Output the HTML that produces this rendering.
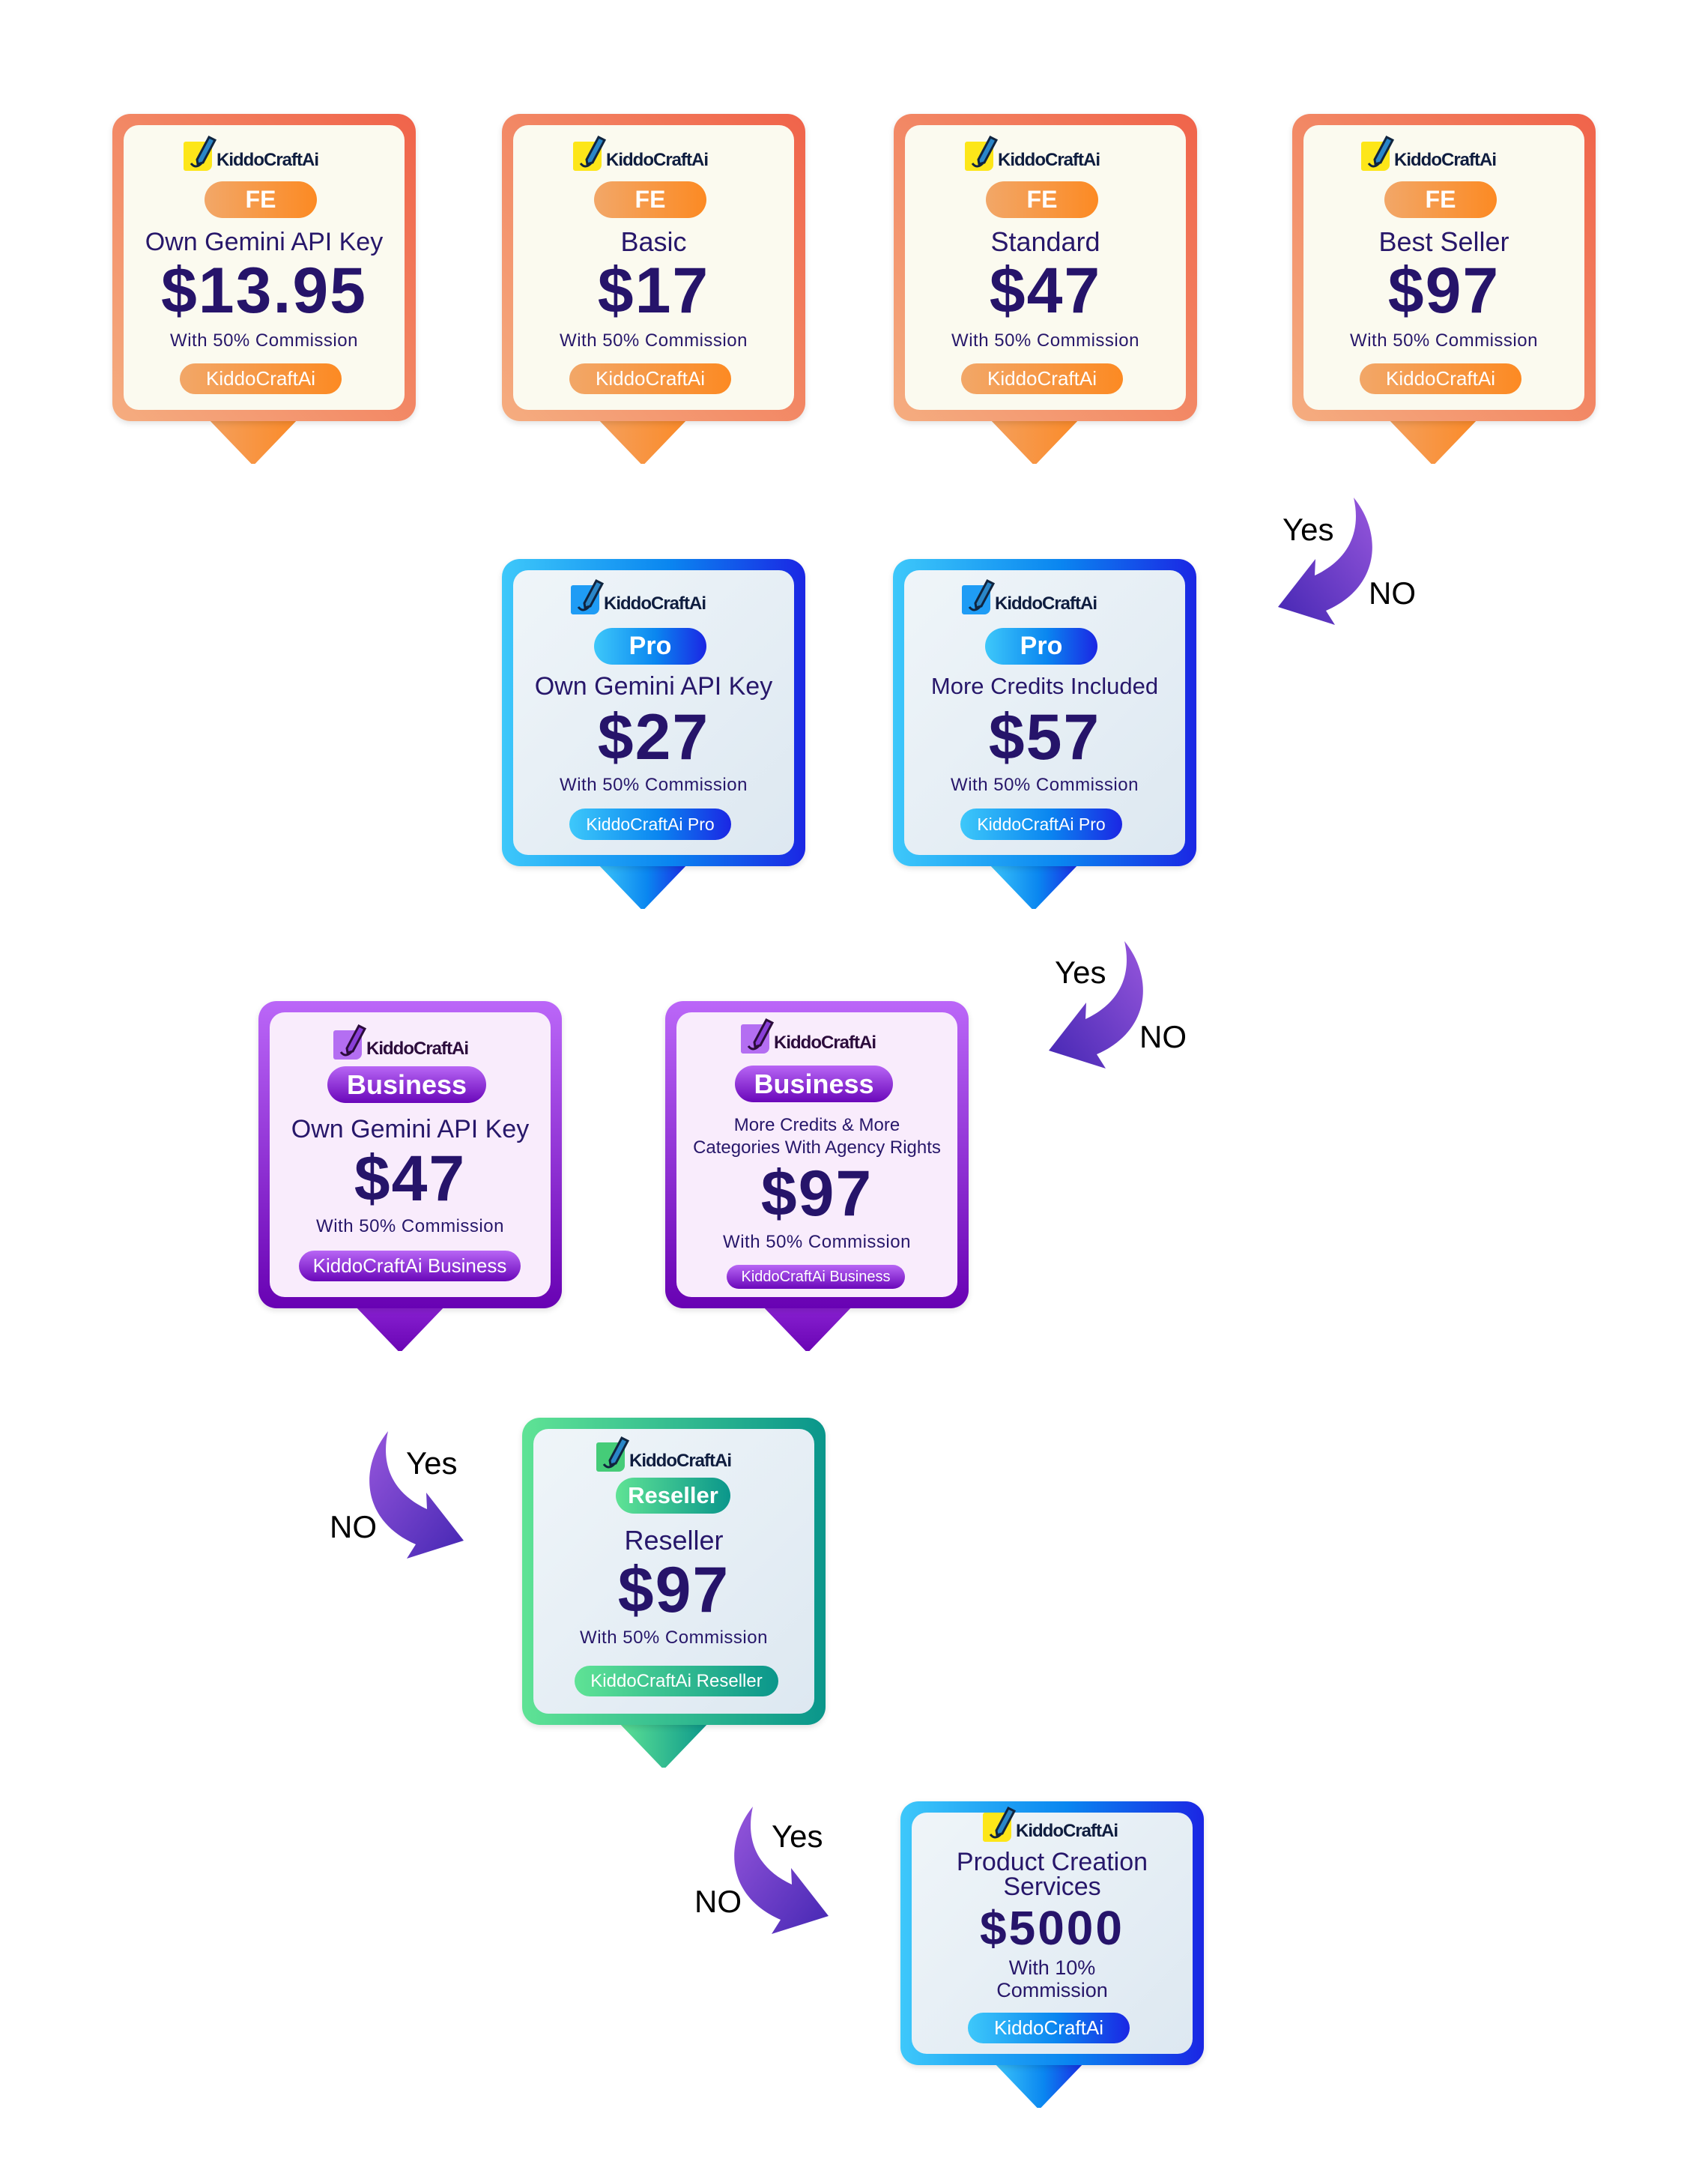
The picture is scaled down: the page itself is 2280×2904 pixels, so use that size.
<!DOCTYPE html>
<html><head><meta charset="utf-8">
<style>
*{margin:0;padding:0;box-sizing:border-box}
body{width:2280px;height:2904px;background:#fff;position:relative;overflow:hidden;font-family:"Liberation Sans",sans-serif}
.card{position:absolute;width:405px;height:410px}
.outer{position:absolute;left:0;top:0;right:0;bottom:0;border-radius:24px;box-shadow:0 3px 8px rgba(0,0,0,.12)}
.inner{position:absolute;left:15px;top:15px;right:15px;bottom:15px;border-radius:20px}
.tip{position:absolute;width:124px;height:62px;clip-path:polygon(0 0,100% 0,52% 100%,48% 100%)}
.t{position:absolute;left:0;width:405px;text-align:center;white-space:nowrap;color:#27176a}
.pill{position:absolute;border-radius:26px;color:#fff;text-align:center;white-space:nowrap}
.logo{position:absolute;height:52px;width:220px}
.logo .ic{position:absolute;left:0;top:11px;width:38px;height:39px;border-radius:3px 3px 8px 3px}
.logo svg{position:absolute;left:0;top:0}
.logo span{position:absolute;left:44px;top:21px;font-size:24px;font-weight:bold;letter-spacing:-1px;color:#0f1d3f;line-height:30px}
.fe .outer{background:linear-gradient(45deg,#f5ad80,#f0634a)}
.fe .inner{background:#fbfaef}
.fe .pill{background:linear-gradient(90deg,#f2a768,#fc8a23)}
.fe .tip{background:linear-gradient(90deg,#f4a05e,#fb8a27)}
.pro .outer{background:linear-gradient(90deg,#3ec8fa,#0a86f0 55%,#1b26e4)}
.pro .inner{background:linear-gradient(135deg,#eff5f9,#dde8f1)}
.pro .pill{background:linear-gradient(90deg,#3ec8fa,#0a86f0 55%,#1b26e4)}
.pro .tip{background:linear-gradient(90deg,#3ec8fa,#0a86f0 55%,#1b26e4)}
.biz .outer{background:linear-gradient(180deg,#bb67f8,#6802b3)}
.biz .inner{background:#f9ecfc}
.biz .pill{background:linear-gradient(180deg,#b866f5,#6a07ba)}
.biz .tip{background:linear-gradient(180deg,#8a22d2,#6a05b5)}
.biz .logo span{color:#2c0c3c}
.res .outer{background:linear-gradient(90deg,#5fe395,#0a968b)}
.res .inner{background:linear-gradient(135deg,#eff5f9,#dde8f1)}
.res .pill{background:linear-gradient(90deg,#5fe395,#0a968b)}
.res .tip{background:linear-gradient(90deg,#5fe395,#0a968b)}
.price{font-weight:bold;letter-spacing:2px;color:#26146a}
.lbl{position:absolute;font-size:42px;color:#000;line-height:1;font-family:"Liberation Sans",sans-serif}
</style></head><body>

<svg width="0" height="0" style="position:absolute">
<defs>
<linearGradient id="ag" x1="1" y1="0" x2="0" y2="1"><stop offset="0" stop-color="#9656dc"/><stop offset="1" stop-color="#4527b3"/></linearGradient>
</defs>
</svg>

<!-- ROW 1 FE -->
<div class="card fe" style="left:150px;top:152px">
 <div class="tip" style="left:126px;top:405px"></div>
 <div class="outer"></div><div class="inner"></div>
 <div class="logo" style="left:95px;top:26px"><div class="ic" style="background:#fde619"></div><svg width="50" height="52"><path d="M18 35 L34 5 L42 9 L26 39 L19 41 Z" fill="#2a86c8" stroke="#10243f" stroke-width="3"/><path d="M10 40 Q16 48 24 40" fill="none" stroke="#10243f" stroke-width="3"/></svg><span>KiddoCraftAi</span></div>
 <div class="pill" style="left:123px;top:90px;width:150px;height:49px;line-height:49px;font-size:32px;font-weight:bold">FE</div>
 <div class="t" style="top:151px;height:40px;line-height:40px;font-size:34px">Own Gemini API Key</div>
 <div class="t price" style="top:186px;height:100px;line-height:100px;font-size:86px">$13.95</div>
 <div class="t" style="top:289px;height:28px;line-height:28px;font-size:24px;letter-spacing:.5px">With 50% Commission</div>
 <div class="pill" style="left:90px;top:333px;width:216px;height:41px;line-height:41px;font-size:26px">KiddoCraftAi</div>
</div>

<div class="card fe" style="left:670px;top:152px">
 <div class="tip" style="left:126px;top:405px"></div>
 <div class="outer"></div><div class="inner"></div>
 <div class="logo" style="left:95px;top:26px"><div class="ic" style="background:#fde619"></div><svg width="50" height="52"><path d="M18 35 L34 5 L42 9 L26 39 L19 41 Z" fill="#2a86c8" stroke="#10243f" stroke-width="3"/><path d="M10 40 Q16 48 24 40" fill="none" stroke="#10243f" stroke-width="3"/></svg><span>KiddoCraftAi</span></div>
 <div class="pill" style="left:123px;top:90px;width:150px;height:49px;line-height:49px;font-size:32px;font-weight:bold">FE</div>
 <div class="t" style="top:151px;height:40px;line-height:40px;font-size:36px">Basic</div>
 <div class="t price" style="top:186px;height:100px;line-height:100px;font-size:86px">$17</div>
 <div class="t" style="top:289px;height:28px;line-height:28px;font-size:24px;letter-spacing:.5px">With 50% Commission</div>
 <div class="pill" style="left:90px;top:333px;width:216px;height:41px;line-height:41px;font-size:26px">KiddoCraftAi</div>
</div>

<div class="card fe" style="left:1193px;top:152px">
 <div class="tip" style="left:126px;top:405px"></div>
 <div class="outer"></div><div class="inner"></div>
 <div class="logo" style="left:95px;top:26px"><div class="ic" style="background:#fde619"></div><svg width="50" height="52"><path d="M18 35 L34 5 L42 9 L26 39 L19 41 Z" fill="#2a86c8" stroke="#10243f" stroke-width="3"/><path d="M10 40 Q16 48 24 40" fill="none" stroke="#10243f" stroke-width="3"/></svg><span>KiddoCraftAi</span></div>
 <div class="pill" style="left:123px;top:90px;width:150px;height:49px;line-height:49px;font-size:32px;font-weight:bold">FE</div>
 <div class="t" style="top:151px;height:40px;line-height:40px;font-size:36px">Standard</div>
 <div class="t price" style="top:186px;height:100px;line-height:100px;font-size:86px">$47</div>
 <div class="t" style="top:289px;height:28px;line-height:28px;font-size:24px;letter-spacing:.5px">With 50% Commission</div>
 <div class="pill" style="left:90px;top:333px;width:216px;height:41px;line-height:41px;font-size:26px">KiddoCraftAi</div>
</div>

<div class="card fe" style="left:1725px;top:152px">
 <div class="tip" style="left:126px;top:405px"></div>
 <div class="outer"></div><div class="inner"></div>
 <div class="logo" style="left:92px;top:26px"><div class="ic" style="background:#fde619"></div><svg width="50" height="52"><path d="M18 35 L34 5 L42 9 L26 39 L19 41 Z" fill="#2a86c8" stroke="#10243f" stroke-width="3"/><path d="M10 40 Q16 48 24 40" fill="none" stroke="#10243f" stroke-width="3"/></svg><span>KiddoCraftAi</span></div>
 <div class="pill" style="left:123px;top:90px;width:150px;height:49px;line-height:49px;font-size:32px;font-weight:bold">FE</div>
 <div class="t" style="top:151px;height:40px;line-height:40px;font-size:36px">Best Seller</div>
 <div class="t price" style="top:186px;height:100px;line-height:100px;font-size:86px">$97</div>
 <div class="t" style="top:289px;height:28px;line-height:28px;font-size:24px;letter-spacing:.5px">With 50% Commission</div>
 <div class="pill" style="left:90px;top:333px;width:216px;height:41px;line-height:41px;font-size:26px">KiddoCraftAi</div>
</div>

<!-- ROW 2 PRO -->
<div class="card pro" style="left:670px;top:746px">
 <div class="tip" style="left:126px;top:405px"></div>
 <div class="outer"></div><div class="inner"></div>
 <div class="logo" style="left:92px;top:24px"><div class="ic" style="background:#1f9cf5"></div><svg width="50" height="52"><path d="M18 35 L34 5 L42 9 L26 39 L19 41 Z" fill="#2a86c8" stroke="#10243f" stroke-width="3"/><path d="M10 40 Q16 48 24 40" fill="none" stroke="#10243f" stroke-width="3"/></svg><span>KiddoCraftAi</span></div>
 <div class="pill" style="left:123px;top:92px;width:150px;height:49px;line-height:49px;font-size:34px;font-weight:bold">Pro</div>
 <div class="t" style="top:150px;height:40px;line-height:40px;font-size:34px">Own Gemini API Key</div>
 <div class="t price" style="top:188px;height:100px;line-height:100px;font-size:86px">$27</div>
 <div class="t" style="top:288px;height:28px;line-height:28px;font-size:24px;letter-spacing:.5px">With 50% Commission</div>
 <div class="pill" style="left:90px;top:333px;width:216px;height:42px;line-height:42px;font-size:23px">KiddoCraftAi Pro</div>
</div>

<div class="card pro" style="left:1192px;top:746px">
 <div class="tip" style="left:126px;top:405px"></div>
 <div class="outer"></div><div class="inner"></div>
 <div class="logo" style="left:92px;top:24px"><div class="ic" style="background:#1f9cf5"></div><svg width="50" height="52"><path d="M18 35 L34 5 L42 9 L26 39 L19 41 Z" fill="#2a86c8" stroke="#10243f" stroke-width="3"/><path d="M10 40 Q16 48 24 40" fill="none" stroke="#10243f" stroke-width="3"/></svg><span>KiddoCraftAi</span></div>
 <div class="pill" style="left:123px;top:92px;width:150px;height:49px;line-height:49px;font-size:34px;font-weight:bold">Pro</div>
 <div class="t" style="top:150px;height:40px;line-height:40px;font-size:31px">More Credits Included</div>
 <div class="t price" style="top:188px;height:100px;line-height:100px;font-size:86px">$57</div>
 <div class="t" style="top:288px;height:28px;line-height:28px;font-size:24px;letter-spacing:.5px">With 50% Commission</div>
 <div class="pill" style="left:90px;top:333px;width:216px;height:42px;line-height:42px;font-size:23px">KiddoCraftAi Pro</div>
</div>

<!-- ROW 3 BUSINESS -->
<div class="card biz" style="left:345px;top:1336px">
 <div class="tip" style="left:127px;top:405px"></div>
 <div class="outer"></div><div class="inner"></div>
 <div class="logo" style="left:100px;top:28px"><div class="ic" style="background:#b46ef2"></div><svg width="50" height="52"><path d="M18 35 L34 5 L42 9 L26 39 L19 41 Z" fill="#8a3fd8" stroke="#2c0c3c" stroke-width="3"/><path d="M10 40 Q16 48 24 40" fill="none" stroke="#2c0c3c" stroke-width="3"/></svg><span>KiddoCraftAi</span></div>
 <div class="pill" style="left:92px;top:87px;width:212px;height:49px;line-height:49px;font-size:36px;font-weight:bold">Business</div>
 <div class="t" style="top:151px;height:40px;line-height:40px;font-size:34px">Own Gemini API Key</div>
 <div class="t price" style="top:187px;height:100px;line-height:100px;font-size:86px">$47</div>
 <div class="t" style="top:287px;height:28px;line-height:28px;font-size:24px;letter-spacing:.5px">With 50% Commission</div>
 <div class="pill" style="left:54px;top:333px;width:296px;height:41px;line-height:41px;font-size:26px">KiddoCraftAi Business</div>
</div>

<div class="card biz" style="left:888px;top:1336px">
 <div class="tip" style="left:128px;top:405px"></div>
 <div class="outer"></div><div class="inner"></div>
 <div class="logo" style="left:101px;top:20px"><div class="ic" style="background:#b46ef2"></div><svg width="50" height="52"><path d="M18 35 L34 5 L42 9 L26 39 L19 41 Z" fill="#8a3fd8" stroke="#2c0c3c" stroke-width="3"/><path d="M10 40 Q16 48 24 40" fill="none" stroke="#2c0c3c" stroke-width="3"/></svg><span>KiddoCraftAi</span></div>
 <div class="pill" style="left:93px;top:86px;width:211px;height:49px;line-height:49px;font-size:36px;font-weight:bold">Business</div>
 <div class="t" style="top:152px;height:28px;line-height:28px;font-size:24px">More Credits &amp; More</div>
 <div class="t" style="top:182px;height:28px;line-height:28px;font-size:24px">Categories With Agency Rights</div>
 <div class="t price" style="top:207px;height:100px;line-height:100px;font-size:86px">$97</div>
 <div class="t" style="top:308px;height:28px;line-height:28px;font-size:24px;letter-spacing:.5px">With 50% Commission</div>
 <div class="pill" style="left:82px;top:352px;width:238px;height:32px;line-height:32px;font-size:20px">KiddoCraftAi Business</div>
</div>

<!-- ROW 4 RESELLER -->
<div class="card res" style="left:697px;top:1892px">
 <div class="tip" style="left:127px;top:405px"></div>
 <div class="outer"></div><div class="inner"></div>
 <div class="logo" style="left:99px;top:22px"><div class="ic" style="background:#45cc78"></div><svg width="50" height="52"><path d="M18 35 L34 5 L42 9 L26 39 L19 41 Z" fill="#2a86c8" stroke="#10243f" stroke-width="3"/><path d="M10 40 Q16 48 24 40" fill="none" stroke="#10243f" stroke-width="3"/></svg><span>KiddoCraftAi</span></div>
 <div class="pill" style="left:125px;top:80px;width:153px;height:48px;line-height:48px;font-size:31px;font-weight:bold">Reseller</div>
 <div class="t" style="top:144px;height:40px;line-height:40px;font-size:36px">Reseller</div>
 <div class="t price" style="top:180px;height:100px;line-height:100px;font-size:86px">$97</div>
 <div class="t" style="top:280px;height:28px;line-height:28px;font-size:24px;letter-spacing:.5px">With 50% Commission</div>
 <div class="pill" style="left:70px;top:331px;width:272px;height:41px;line-height:41px;font-size:24px">KiddoCraftAi Reseller</div>
</div>

<!-- ROW 5 PRODUCT -->
<div class="card pro" style="left:1202px;top:2404px;height:352px">
 <div class="tip" style="left:123px;top:347px"></div>
 <div class="outer"></div><div class="inner"></div>
 <div class="logo" style="left:110px;top:4px"><div class="ic" style="background:#fde619"></div><svg width="50" height="52"><path d="M18 35 L34 5 L42 9 L26 39 L19 41 Z" fill="#2a86c8" stroke="#10243f" stroke-width="3"/><path d="M10 40 Q16 48 24 40" fill="none" stroke="#10243f" stroke-width="3"/></svg><span>KiddoCraftAi</span></div>
 <div class="t" style="top:62px;height:38px;line-height:38px;font-size:34px">Product Creation</div>
 <div class="t" style="top:95px;height:38px;line-height:38px;font-size:34px">Services</div>
 <div class="t price" style="top:134px;height:70px;line-height:70px;font-size:64px;letter-spacing:3px">$5000</div>
 <div class="t" style="top:207px;height:30px;line-height:30px;font-size:27px">With 10%</div>
 <div class="t" style="top:237px;height:30px;line-height:30px;font-size:27px">Commission</div>
 <div class="pill" style="left:90px;top:282px;width:216px;height:41px;line-height:41px;font-size:26px">KiddoCraftAi</div>
</div>

<!-- ARROWS -->
<svg style="position:absolute;left:1680px;top:640px" width="170" height="210"><path d="M127,24 C168,75 160,145 90,175 L102,194 L26,170 L76,106 L75,128 C118,108 138,72 127,24 Z" fill="url(#ag)"/></svg>
<div class="lbl" style="left:1712px;top:686px">Yes</div>
<div class="lbl" style="left:1827px;top:771px">NO</div>

<svg style="position:absolute;left:1374px;top:1232px" width="170" height="210"><path d="M127,24 C168,75 160,145 90,175 L102,194 L26,170 L76,106 L75,128 C118,108 138,72 127,24 Z" fill="url(#ag)"/></svg>
<div class="lbl" style="left:1408px;top:1277px">Yes</div>
<div class="lbl" style="left:1521px;top:1363px">NO</div>

<svg style="position:absolute;left:475px;top:1886px" width="170" height="210"><g transform="translate(170,0) scale(-1,1)"><path d="M127,24 C168,75 160,145 90,175 L102,194 L26,170 L76,106 L75,128 C118,108 138,72 127,24 Z" fill="url(#ag)"/></g></svg>
<div class="lbl" style="left:542px;top:1932px">Yes</div>
<div class="lbl" style="left:440px;top:2017px">NO</div>

<svg style="position:absolute;left:962px;top:2387px" width="170" height="210"><g transform="translate(170,0) scale(-1,1)"><path d="M127,24 C168,75 160,145 90,175 L102,194 L26,170 L76,106 L75,128 C118,108 138,72 127,24 Z" fill="url(#ag)"/></g></svg>
<div class="lbl" style="left:1030px;top:2430px">Yes</div>
<div class="lbl" style="left:927px;top:2517px">NO</div>

</body></html>
